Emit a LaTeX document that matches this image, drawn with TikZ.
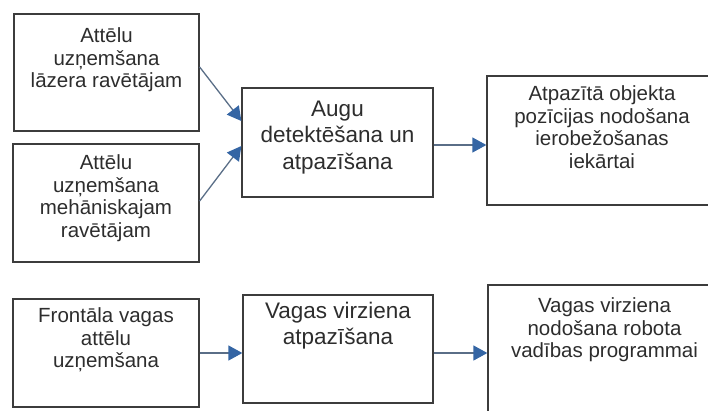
\documentclass[tikz,border=0pt]{standalone}
\usepackage{fontspec}
\setmainfont{Liberation Sans}
\usetikzlibrary{arrows.meta,positioning,calc}
\definecolor{boxgray}{RGB}{60,60,60}
\definecolor{txtgray}{RGB}{45,45,45}
\definecolor{linecol}{RGB}{90,110,135}
\definecolor{headblue}{RGB}{52,101,164}

\tikzset{
  stepbox/.style={draw=boxgray,line width=1.3pt,inner sep=0pt},
  smalltext/.style={align=center,anchor=base,text=txtgray,
                    font=\fontsize{20.5}{22.8}\selectfont},
  bigtext/.style={align=center,anchor=base,text=txtgray,
                  font=\fontsize{22.5}{26.5}\selectfont},
  flow/.style={draw=linecol,line width=1.3pt,
               -{Triangle[length=14pt,width=15pt,color=headblue]}}
}

\begin{document}
\begin{tikzpicture}[x=1pt,y=-1pt]
  \useasboundingbox (0,0) rectangle (708,410);
  % upper chain
  \node[stepbox,minimum width=185pt,minimum height=117pt] (b1) at (106.5,72.5) {};
  \node[stepbox,minimum width=186pt,minimum height=118pt] (b2) at (106,203) {};
  \node[stepbox,minimum width=191pt,minimum height=109pt] (b3) at (337.5,142.5) {};
  \node[stepbox,minimum width=230pt,minimum height=129pt] (b4) at (602,140.5) {};
  % text: base = last line
  \node[smalltext] (b1t) at ([yshift=-74.6pt]b1.north)
    {Attēlu\\uzņemšana\\lāzera ravētājam};
  \node[smalltext] (b2t) at ([yshift=-94.4pt]b2.north)
    {Attēlu\\uzņemšana\\mehāniskajam\\ravētājam};
  \node[bigtext] (b3t) at ([yshift=-82pt]b3.north)
    {Augu\\detektēšana un\\atpazīšana};
  \node[smalltext] (b4t) at ([yshift=-93.4pt]b4.north)
    {Atpazītā objekta\\pozīcijas nodošana\\ierobežošanas\\iekārtai};
  % lower chain
  \node[stepbox,minimum width=186pt,minimum height=108pt] (b5) at (106,353) {};
  \node[stepbox,minimum width=190pt,minimum height=108pt] (b6) at (338,349) {};
  \node[stepbox,minimum width=233pt,minimum height=145pt] (b7) at (604.5,357.5) {};
  \node[smalltext] (b5t) at ([yshift=-69.6pt]b5.north)
    {Frontāla vagas\\attēlu\\uzņemšana};
  \node[bigtext] (b6t) at ([yshift=-50.5pt]b6.north)
    {Vagas virziena\\atpazīšana};
  \node[smalltext] (b7t) at ([yshift=-73.6pt]b7.north)
    {Vagas virziena\\nodošana robota\\vadības programmai};
  % arrows
  \draw[flow] ([yshift=5.5pt]b1.east) -- ([yshift=21.5pt]b3.west);
  \draw[flow] ([yshift=2pt]b2.east) -- ([yshift=-3.5pt]b3.west);
  \draw[flow] ([yshift=-2.5pt]b3.east) -- ([yshift=-2.5pt]b3.east -| b4.west);
  \draw[flow] (b5.east) -- (b5.east -| b6.west);
  \draw[flow] (b5.east -| b6.east) -- (b5.east -| b7.west);
\end{tikzpicture}
\end{document}
